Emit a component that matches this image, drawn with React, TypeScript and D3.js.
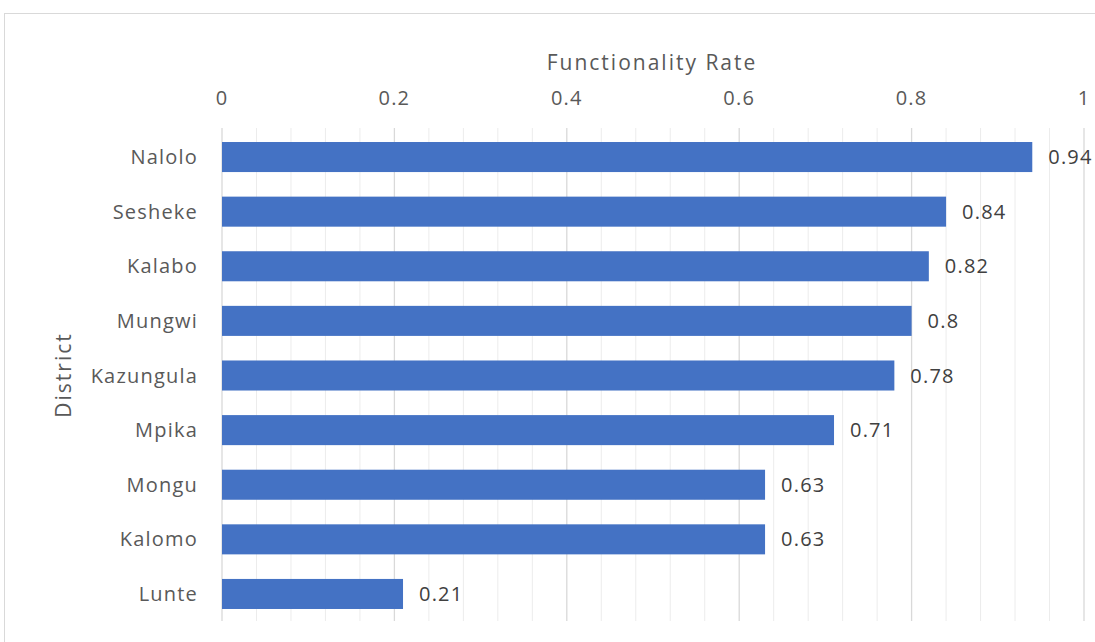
import React from "react";
import { scaleBand, scaleLinear, range } from "d3";

const districts = ["Nalolo", "Sesheke", "Kalabo", "Mungwi", "Kazungula", "Mpika", "Mongu", "Kalomo", "Lunte"];
const rates = [0.94, 0.84, 0.82, 0.8, 0.78, 0.71, 0.63, 0.63, 0.21];
const tickValues = [0, 0.2, 0.4, 0.6, 0.8, 1];

export default function App() {
    const width = 1095;
    const height = 642;
    const left = 222, right = 1084, top = 130, bottom = 621;

    const xScale = scaleLinear().domain([0, 1]).range([left, right]);
    const yScale = scaleBand()
        .domain(districts)
        .range([top, bottom])
        .paddingInner(0.45)
        .paddingOuter(0.22);

    const minor = range(0, 26).map(i => i * 0.04);
    const font = "'Open Sans', sans-serif";
    const txt = { fontFamily: font, fontSize: 20, letterSpacing: 1.2 };

    return (
        <svg width={width} height={height} style={{ position: "absolute", left: 0, top: 0 }}>
            <rect x={0} y={0} width={width} height={height} fill="#fff" />
            <rect x={4.5} y={13.5} width={1100} height={640} fill="#fff" stroke="#d9d9d9" />

            {/* gridlines */}
            {minor.map((v, i) => (
                <line key={i}
                      x1={xScale(v)} x2={xScale(v)} y1={top - 2} y2={bottom}
                      stroke={i % 5 === 0 ? "#d9d9d9" : "#ececec"}
                      strokeWidth={i % 5 === 0 ? 1.3 : 1} />
            ))}

            {/* bars */}
            {districts.map((d, i) => (
                <rect key={d}
                      x={xScale(0)}
                      y={yScale(d)}
                      width={xScale(rates[i]) - xScale(0)}
                      height={yScale.bandwidth()}
                      fill="#4472C4" />
            ))}

            {/* data labels */}
            {districts.map((d, i) => (
                <text key={d}
                      x={xScale(rates[i]) + 16}
                      y={(yScale(d) ?? 0) + yScale.bandwidth() / 2}
                      dy="0.35em"
                      {...txt} fill="#404040">
                    {rates[i]}
                </text>
            ))}

            {/* category labels */}
            {districts.map(d => (
                <text key={d}
                      x={198}
                      y={(yScale(d) ?? 0) + yScale.bandwidth() / 2}
                      dy="0.35em" textAnchor="end"
                      {...txt} fill="#595959">
                    {d}
                </text>
            ))}

            {/* x axis ticks */}
            {tickValues.map(v => (
                <text key={v} x={xScale(v)} y={98} dy="0.35em" textAnchor="middle"
                      {...txt} fill="#595959">
                    {v}
                </text>
            ))}

            <text x={652} y={63} dy="0.35em" textAnchor="middle"
                  fontFamily={font} fontSize={21} letterSpacing={2} fill="#595959">
                Functionality Rate
            </text>

            <text transform={`translate(64, 375) rotate(-90)`} dy="0.35em" textAnchor="middle"
                  fontFamily={font} fontSize={21} letterSpacing={2} fill="#595959">
                District
            </text>
        </svg>
    );
}
